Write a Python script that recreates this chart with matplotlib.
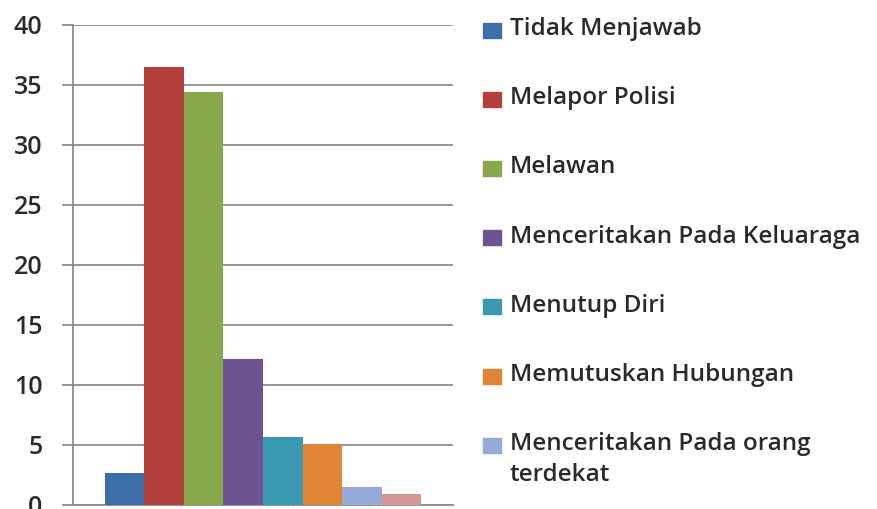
import matplotlib
matplotlib.use("Agg")
import matplotlib.pyplot as plt
from matplotlib.patches import Rectangle

labels = ["Tidak Menjawab", "Melapor Polisi", "Melawan", "Menceritakan Pada Keluaraga",
          "Menutup Diri", "Memutuskan Hubungan", "Menceritakan Pada orang\nterdekat", ""]
values = [2.7, 36.5, 34.4, 12.2, 5.7, 5.05, 1.5, 0.9]
colors = ["#3E6FA9", "#B2403D", "#89A74B", "#6E5392", "#3B98B1", "#E08436", "#97A9D6", "#D49694"]
yticks = [0, 5, 10, 15, 20, 25, 30, 35, 40]

plt.rcParams["font.family"] = ["Open Sans", "DejaVu Sans"]
fig = plt.figure(figsize=(8.78, 5.09), dpi=100)
W, H = 878, 509
ax = fig.add_axes([73 / W, (H - 505) / H, (453 - 73) / W, (505 - 25) / H])

xs = list(range(len(values)))
ax.bar(xs, values, width=1.0, color=colors, zorder=3)
ax.set_xlim(-1.31, 8.31)
ax.set_ylim(0, 40)
ax.set_yticks(yticks)
ax.set_yticklabels([str(t) for t in yticks], fontsize=18, color="#2a2a2a", fontweight="semibold")
ax.set_xticks([])
ax.grid(axis="y", color="#8c8c8c", linewidth=1.3, zorder=0)
for s in ["top", "right"]:
    ax.spines[s].set_visible(False)
for s in ["left", "bottom"]:
    ax.spines[s].set_color("#8c8c8c")
    ax.spines[s].set_linewidth(1.3)
ax.tick_params(axis="y", length=8, width=1.3, color="#8c8c8c", pad=14)

# legend (manual, as in the original chart)
top_px = 30
step_px = 69.2
for i, (lab, col) in enumerate(zip(labels, colors)):
    if not lab:
        continue
    yc = top_px + i * step_px
    sw, sh = 18, 15
    fig.patches.append(Rectangle((483 / W, (H - yc - sh / 2) / H), sw / W, sh / H,
                                 transform=fig.transFigure, color=col, figure=fig))
    fig.text(510 / W, (H - yc + 13) / H, lab, fontsize=17.5, color="#2a2a2a",
             fontweight="semibold", va="top", ha="left", linespacing=1.38)

fig.savefig("out.png", dpi=100)
